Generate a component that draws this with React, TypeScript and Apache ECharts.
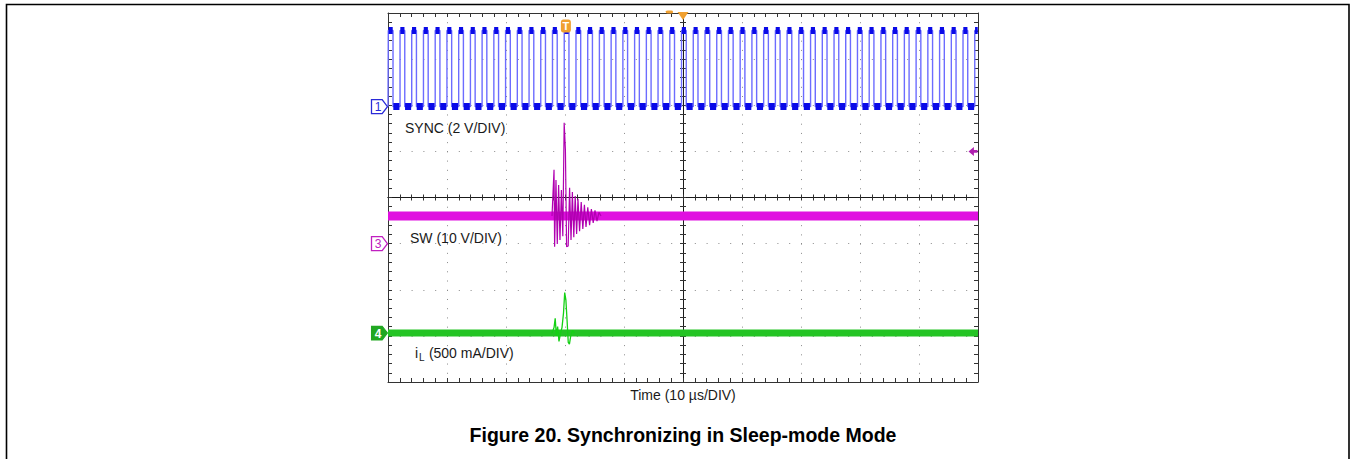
import React, { useEffect, useRef } from "react";
import * as echarts from "echarts";

// ---- Time base (µs), 10 µs/div, trigger at centre ----
const TIME_MIN = -50;
const TIME_MAX = 50;
const TIME_PER_DIV = 10;
const DIV_MIN = -4;
const DIV_MAX = 4;
const TRIGGER_TIME_US = -19.85;

// ---- Channel 1: SYNC, 2 V/div ----
const SYNC_V_PER_DIV = 2;
const SYNC_OFFSET_DIV = 1.97;
const SYNC_LOW_V = 0;
const SYNC_HIGH_V = 3.3;
const SYNC_HIGH_US = 0.8;
const SYNC_RISING_US = [
  -49.95, -47.96, -45.98, -43.99, -42.0, -40.01, -38.02, -36.03, -34.05, -32.06,
  -30.07, -28.08, -26.09, -24.11, -22.12, -20.13, -18.14, -16.15, -14.17, -12.18,
  -10.19, -8.2, -6.21, -4.23, -2.24, -0.25, 1.74, 3.73, 5.72, 7.7,
  9.69, 11.68, 13.67, 15.66, 17.64, 19.63, 21.62, 23.61, 25.6, 27.58,
  29.57, 31.56, 33.55, 35.54, 37.52, 39.51, 41.5, 43.49, 45.48, 47.46, 49.45,
];

// ---- Channel 3: SW, 10 V/div ----
const SW_V_PER_DIV = 10;
const SW_OFFSET_DIV = -1;
const SW_BASE_V = 6;
const SW_TRIGGER_LEVEL_V = 20;
const SW_RING_US = [
  -22.2, -21.86, -21.76, -21.53, -21.31, -21.08, -20.85, -20.61, -20.37, -20.14,
  -19.93, -19.73, -19.46, -19.22, -18.98, -18.75, -18.51, -18.27, -18.03, -17.8,
  -17.53, -17.25, -16.98, -16.71, -16.44, -16.14, -15.83, -15.53, -15.22, -14.92,
  -14.58, -14.24, -13.9,
];
const SW_RING_V = [
  6.0, 16.0, -0.7, 13.8, -0.1, 12.7, 0.8, 11.6, 1.6, 26.2,
  20.3, -0.7, -0.5, 12.1, 0.8, 11.2, 1.4, 10.3, 2.1, 9.7,
  2.7, 9.0, 3.2, 8.4, 3.6, 7.9, 4.0, 7.5, 4.5, 7.2,
  4.9, 6.8, 6.0,
];

// ---- Channel 4: iL, 500 mA/div ----
const IL_A_PER_DIV = 0.5;
const IL_OFFSET_DIV = -2.94;
const IL_BASE_A = 0;
const IL_EVENT_US = [
  -22.2, -21.86, -21.66, -21.46, -21.25, -21.02, -20.76, -20.51, -20.25, -20.05,
  -19.85, -19.65, -19.45, -19.25, -19.0, -18.7, -18.4,
];
const IL_EVENT_A = [
  0, 0.06, 0.16, -0.03, 0.07, -0.09, 0.0, 0.06, 0.22, 0.44,
  0.36, 0.14, -0.1, -0.12, -0.02, 0.03, 0,
];

// ---- Texts ----
const TITLE = "Figure 20. Synchronizing in Sleep-mode Mode";
const X_NAME = "Time (10 µs/DIV)";
const SYNC_LABEL = "SYNC (2 V/DIV)";
const SW_LABEL = "SW (10 V/DIV)";
const IL_LABEL_MAIN = "i";
const IL_LABEL_SUB = "L";
const IL_LABEL_REST = " (500 mA/DIV)";

const FONT = "'Liberation Sans', Arial, Helvetica, sans-serif";
const PENTAGON = "path://M0,0 L10,0 L15,6.5 L10,13 L0,13 Z";
const LEFT_ARROW = "path://M0,5 L6,0 L6,3.5 L10,3.5 L10,6.5 L6,6.5 L6,10 Z";
const DOWN_TRI = "path://M0,0 L10,0 L5,7 Z";

const toDiv = (v: number, perDiv: number, offset: number) => offset + v / perDiv;

function buildSync() {
  const lo = toDiv(SYNC_LOW_V, SYNC_V_PER_DIV, SYNC_OFFSET_DIV);
  const hi = toDiv(SYNC_HIGH_V, SYNC_V_PER_DIV, SYNC_OFFSET_DIV);
  const line: number[][] = [[TIME_MIN, lo]];
  const blocks: any[] = [];
  SYNC_RISING_US.forEach((t, i) => {
    const rise = Math.max(t, TIME_MIN);
    const fall = Math.min(t + SYNC_HIGH_US, TIME_MAX);
    line.push([rise, lo], [rise, hi], [fall, hi]);
    blocks.push({ coords: [[rise + 0.05, hi], [fall - 0.05, hi]] });
    if (fall < TIME_MAX) {
      line.push([fall, lo]);
      const next = i + 1 < SYNC_RISING_US.length ? SYNC_RISING_US[i + 1] : TIME_MAX;
      const end = Math.min(next, TIME_MAX);
      blocks.push({ coords: [[fall + 0.05, lo], [end - 0.1, lo]] });
    }
  });
  return { line, blocks, lo, hi };
}

function buildSw() {
  const base = toDiv(SW_BASE_V, SW_V_PER_DIV, SW_OFFSET_DIV);
  const band = [[TIME_MIN, base], [TIME_MAX, base]];
  const ring = SW_RING_US.map((t, i) => [t, toDiv(SW_RING_V[i], SW_V_PER_DIV, SW_OFFSET_DIV)]);
  return { band, ring };
}

function buildIl() {
  const base = toDiv(IL_BASE_A, IL_A_PER_DIV, IL_OFFSET_DIV);
  const band = [[TIME_MIN, base], [TIME_MAX, base]];
  const ev = IL_EVENT_US.map((t, i) => [t, toDiv(IL_EVENT_A[i], IL_A_PER_DIV, IL_OFFSET_DIV)]);
  return { band, ev };
}

const GRID = { left: 388, top: 13, width: 590, height: 369 };

function xAxis(opts: any) {
  return {
    type: "value",
    min: TIME_MIN,
    max: TIME_MAX,
    interval: TIME_PER_DIV,
    axisLabel: { show: false },
    splitLine: { show: false },
    ...opts,
  };
}
function yAxis(opts: any) {
  return {
    type: "value",
    min: DIV_MIN,
    max: DIV_MAX,
    interval: 1,
    axisLabel: { show: false },
    splitLine: { show: false },
    ...opts,
  };
}
const tickStyle = { color: "#333", width: 1 };
function ticks(inside: boolean, len: number) {
  return {
    axisTick: { show: true, inside, length: len, lineStyle: tickStyle },
    minorTick: { show: true, splitNumber: 5, length: len, lineStyle: tickStyle },
  };
}

function channelMarker(coord: number[], label: string, color: string, filled: boolean) {
  return {
    coord,
    symbol: PENTAGON,
    symbolSize: [16, 14],
    symbolOffset: [-8.5, 0],
    itemStyle: filled
      ? { color, borderColor: color, borderWidth: 1 }
      : { color: "#ffffff", borderColor: color, borderWidth: 1.2 },
    label: {
      show: true,
      formatter: label,
      color: filled ? "#ffffff" : color,
      fontSize: 12,
      fontWeight: filled ? "bold" : "normal",
      fontFamily: FONT,
      offset: [-1.5, 0.5],
    },
  };
}

export default function App() {
  const ref = useRef<HTMLDivElement>(null);
  useEffect(() => {
    document.body.style.margin = "0";
    if (!ref.current) return;
    const chart = echarts.init(ref.current, undefined, { renderer: "svg" });
    const sync = buildSync();
    const sw = buildSw();
    const il = buildIl();
    const swTrig = toDiv(SW_TRIGGER_LEVEL_V, SW_V_PER_DIV, SW_OFFSET_DIV);

    const option: any = {
      animation: false,
      backgroundColor: "#ffffff",
      grid: { ...GRID, containLabel: false, outerBoundsMode: "none" },
      xAxis: [
        xAxis({
          position: "bottom",
          axisLine: { show: true, onZero: false, lineStyle: { color: "#333", width: 1 } },
          ...ticks(true, 4),
          splitLine: { show: true, lineStyle: { color: "#8a8a8a", width: 1, type: [1, 8.225] } },
          name: X_NAME,
          nameLocation: "middle",
          nameGap: 6,
          nameTextStyle: { fontSize: 14, color: "#1a1a1a", fontFamily: FONT, verticalAlign: "top" },
        }),
        xAxis({
          position: "top",
          axisLine: { show: true, onZero: false, lineStyle: { color: "#333", width: 1 } },
          ...ticks(true, 4),
        }),
        xAxis({
          position: "bottom",
          axisLine: { show: true, onZero: true, onZeroAxisIndex: 0, lineStyle: { color: "#1a1a1a", width: 1 } },
          ...ticks(true, 3),
        }),
        xAxis({
          position: "bottom",
          axisLine: { show: true, onZero: true, onZeroAxisIndex: 0, lineStyle: { color: "#1a1a1a", width: 1 } },
          ...ticks(false, 3),
        }),
      ],
      yAxis: [
        yAxis({
          position: "left",
          axisLine: { show: true, onZero: false, lineStyle: { color: "#333", width: 1 } },
          ...ticks(true, 4),
          splitLine: { show: true, lineStyle: { color: "#8a8a8a", width: 1, type: [1, 10.8] } },
        }),
        yAxis({
          position: "right",
          axisLine: { show: true, onZero: false, lineStyle: { color: "#333", width: 1 } },
          ...ticks(true, 4),
        }),
        yAxis({
          position: "left",
          axisLine: { show: true, onZero: true, onZeroAxisIndex: 0, lineStyle: { color: "#1a1a1a", width: 1 } },
          ...ticks(true, 3),
        }),
        yAxis({
          position: "left",
          axisLine: { show: true, onZero: true, onZeroAxisIndex: 0, lineStyle: { color: "#1a1a1a", width: 1 } },
          ...ticks(false, 3),
        }),
      ],
      series: [
        {
          name: "SYNC",
          type: "line",
          xAxisIndex: 0,
          yAxisIndex: 0,
          data: sync.line,
          symbol: "none",
          lineStyle: { color: "#6c6cff", width: 1.4 },
          z: 3,
          silent: true,
          markPoint: {
            silent: true,
            animation: false,
            data: [
              channelMarker([TIME_MIN, sync.lo], "1", "#2a2ad8", false),
              {
                coord: [TRIGGER_TIME_US, 3.72],
                symbol: "roundRect",
                symbolSize: [10, 13],
                itemStyle: { color: "#f0a030" },
                label: { show: true, formatter: "T", color: "#ffffff", fontSize: 11, fontWeight: "bold", fontFamily: FONT },
              },
              {
                coord: [0, DIV_MAX],
                symbol: DOWN_TRI,
                symbolSize: [11, 8],
                symbolOffset: [0, 3],
                itemStyle: { color: "#f0a030" },
                label: { show: false },
              },
              {
                coord: [-2.3, DIV_MAX],
                symbol: "roundRect",
                symbolSize: [7, 3],
                symbolOffset: [0, -1],
                itemStyle: { color: "#f0a030" },
                label: { show: false },
              },
            ],
          },
        },
        {
          name: "SYNC plateau",
          type: "lines",
          coordinateSystem: "cartesian2d",
          xAxisIndex: 0,
          yAxisIndex: 0,
          data: sync.blocks,
          lineStyle: { color: "#0a0ae8", width: 7, opacity: 1 },
          z: 4,
          silent: true,
        },
        {
          name: "SW band",
          type: "line",
          xAxisIndex: 0,
          yAxisIndex: 0,
          data: sw.band,
          symbol: "none",
          lineStyle: { color: "#e010e0", width: 9 },
          z: 3,
          silent: true,
          markPoint: {
            silent: true,
            animation: false,
            data: [
              channelMarker([TIME_MIN, SW_OFFSET_DIV], "3", "#c020c0", false),
              {
                coord: [TIME_MAX, swTrig],
                symbol: LEFT_ARROW,
                symbolSize: [9, 9],
                symbolOffset: [-5, 0],
                itemStyle: { color: "#b020b0" },
                label: { show: false },
              },
            ],
          },
        },
        {
          name: "SW",
          type: "line",
          xAxisIndex: 0,
          yAxisIndex: 0,
          data: sw.ring,
          symbol: "none",
          lineStyle: { color: "#b000b0", width: 1.2 },
          z: 4,
          silent: true,
        },
        {
          name: "iL band",
          type: "line",
          xAxisIndex: 0,
          yAxisIndex: 0,
          data: il.band,
          symbol: "none",
          lineStyle: { color: "#24c424", width: 7 },
          z: 3,
          silent: true,
          markPoint: {
            silent: true,
            animation: false,
            data: [channelMarker([TIME_MIN, IL_OFFSET_DIV], "4", "#22a822", true)],
          },
        },
        {
          name: "iL",
          type: "line",
          xAxisIndex: 0,
          yAxisIndex: 0,
          data: il.ev,
          symbol: "none",
          lineStyle: { color: "#14d014", width: 1.3 },
          z: 4,
          silent: true,
        },
      ],
      graphic: [
        {
          type: "rect",
          shape: { x: 6.5, y: 4.5, width: 1342.5, height: 520 },
          style: { fill: "none", stroke: "#000", lineWidth: 1.6 },
          silent: true,
          z: 100,
        },
        {
          type: "text",
          x: 405,
          y: 128,
          style: { text: SYNC_LABEL, fontSize: 14, fontFamily: FONT, fill: "#1a1a1a", verticalAlign: "middle" },
        },
        {
          type: "text",
          x: 410,
          y: 238,
          style: { text: SW_LABEL, fontSize: 14, fontFamily: FONT, fill: "#1a1a1a", verticalAlign: "middle" },
        },
        {
          type: "text",
          x: 415,
          y: 353,
          style: { text: IL_LABEL_MAIN, fontSize: 14, fontFamily: FONT, fill: "#1a1a1a", verticalAlign: "middle" },
        },
        {
          type: "text",
          x: 419,
          y: 357,
          style: { text: IL_LABEL_SUB, fontSize: 10, fontFamily: FONT, fill: "#1a1a1a", verticalAlign: "middle" },
        },
        {
          type: "text",
          x: 425,
          y: 353,
          style: { text: IL_LABEL_REST, fontSize: 14, fontFamily: FONT, fill: "#1a1a1a", verticalAlign: "middle" },
        },
        {
          type: "text",
          x: 683,
          y: 435,
          style: {
            text: TITLE,
            fontSize: 19.5,
            fontWeight: "bold",
            fontFamily: FONT,
            fill: "#000",
            align: "center",
            verticalAlign: "middle",
          },
        },
      ],
    };
    chart.setOption(option);
    return () => chart.dispose();
  }, []);
  return <div ref={ref} style={{ width: 1351, height: 459 }} />;
}
